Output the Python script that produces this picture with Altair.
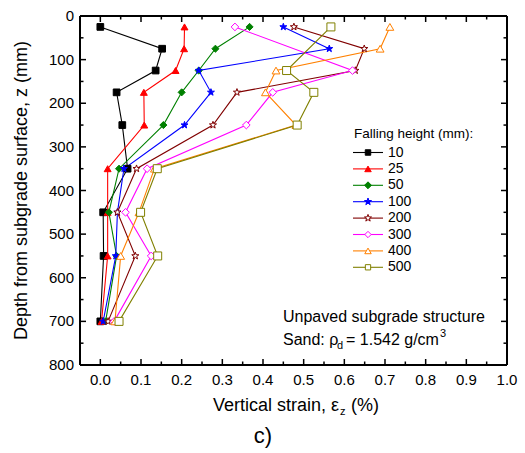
import altair as alt
import pandas as pd

# Falling heights (mm) of the drop-weight tests
heights = ["10", "25", "50", "100", "200", "300", "400", "500"]

# Depths (mm) of the strain gauges
depth_full = [25, 75, 125, 175, 250, 350, 450, 550, 700]
depth_no75 = [25, 125, 175, 250, 350, 450, 550, 700]

# Vertical strain (%) per falling height, listed top to bottom
strain_10 = [0.000, 0.152, 0.136, 0.040, 0.054, 0.067, 0.007, 0.008, 0.000]
strain_25 = [0.207, 0.206, 0.185, 0.107, 0.108, 0.018, 0.018, 0.018, 0.003]
strain_50 = [0.367, 0.283, 0.242, 0.200, 0.155, 0.046, 0.021, 0.040, 0.013]
strain_100 = [0.450, 0.563, 0.242, 0.272, 0.207, 0.058, 0.042, 0.038, 0.007]
strain_200 = [0.476, 0.649, 0.627, 0.336, 0.277, 0.089, 0.042, 0.086, 0.019]
strain_300 = [0.331, 0.620, 0.424, 0.359, 0.115, 0.062, 0.125, 0.034]
strain_400 = [0.712, 0.688, 0.432, 0.406, 0.481, 0.133, 0.095, 0.050, 0.036]
strain_500 = [0.567, 0.458, 0.525, 0.484, 0.140, 0.099, 0.141, 0.046]

series = [
    ("10", depth_full, strain_10),
    ("25", depth_full, strain_25),
    ("50", depth_full, strain_50),
    ("100", depth_full, strain_100),
    ("200", depth_full, strain_200),
    ("300", depth_no75, strain_300),
    ("400", depth_full, strain_400),
    ("500", depth_no75, strain_500),
]

# Axis tick values and their labels
x_major = [0.0, 0.1, 0.2, 0.3, 0.4, 0.5, 0.6, 0.7, 0.8, 0.9, 1.0]
x_labels = ["0.0", "0.1", "0.2", "0.3", "0.4", "0.5", "0.6", "0.7", "0.8", "0.9", "1.0"]
x_minor = [0.05, 0.15, 0.25, 0.35, 0.45, 0.55, 0.65, 0.75, 0.85, 0.95]
y_major = [0, 100, 200, 300, 400, 500, 600, 700, 800]
y_labels = ["0", "100", "200", "300", "400", "500", "600", "700", "800"]
y_minor = [50, 150, 250, 350, 450, 550, 650, 750]

rows = []
for h, depths, strains in series:
    for d, s in zip(depths, strains):
        rows.append({"height": h, "depth": d, "strain": s})
df = pd.DataFrame(rows)

# Styling
STAR = ("M0,-1L0.235,-0.324L0.951,-0.309L0.380,0.124L0.588,0.809L0,0.4"
        "L-0.588,0.809L-0.380,0.124L-0.951,-0.309L-0.235,-0.324Z")
colors = ["#000000", "#ff0000", "#008000", "#0000ff", "#800000", "#ff00ff", "#ff8000", "#808000"]
fills = ["#000000", "#ff0000", "#008000", "#0000ff", "#ffffff", "#ffffff", "#ffffff", "#ffffff"]
shapes = ["square", "triangle-up", "diamond", STAR, STAR, "diamond", "triangle-up", "square"]
sizes = [45, 64, 72, 90, 90, 60, 60, 42]
legend_sizes = [30, 42, 48, 55, 55, 40, 42, 28]

FONT = "Liberation Sans"
W, H = 427, 349

xs = alt.Scale(domain=[-0.05, 1.0], nice=False, zero=False)
ys = alt.Scale(domain=[0, 800], nice=False, reverse=True)
color_scale = alt.Scale(domain=heights, range=colors)
fill_scale = alt.Scale(domain=heights, range=fills)
shape_scale = alt.Scale(domain=heights, range=shapes)

base = alt.Chart(df)

lines = base.mark_line(strokeWidth=1.1).encode(
    x=alt.X("strain:Q", scale=xs, axis=None),
    y=alt.Y("depth:Q", scale=ys, axis=None),
    color=alt.Color("height:N", scale=color_scale, legend=None),
    order=alt.Order("depth:Q"),
)

points = base.mark_point(filled=False, opacity=1, strokeWidth=1).encode(
    x=alt.X("strain:Q", scale=xs, axis=None),
    y=alt.Y("depth:Q", scale=ys, axis=None),
    shape=alt.Shape("height:N", scale=shape_scale, legend=None),
    stroke=alt.Stroke("height:N", scale=color_scale, legend=None),
    fill=alt.Fill("height:N", scale=fill_scale, legend=None),
    size=alt.Size("height:O", scale=alt.Scale(domain=heights, range=sizes), legend=None),
)


def x_ticks(vals, length, top):
    y0 = 0 if top else H
    y1 = length if top else H - length
    return alt.Chart(pd.DataFrame({"v": vals})).mark_rule(
        color="black", strokeWidth=1.5
    ).encode(x=alt.X("v:Q", scale=xs, axis=None), y=alt.value(y0), y2=alt.value(y1))


def y_ticks(vals, length, right):
    x0 = W if right else 0
    x1 = W - length if right else length
    return alt.Chart(pd.DataFrame({"v": vals})).mark_rule(
        color="black", strokeWidth=1.5
    ).encode(y=alt.Y("v:Q", scale=ys, axis=None), x=alt.value(x0), x2=alt.value(x1))


ticks = [
    x_ticks(x_major, 6, False), x_ticks(x_minor, 3.5, False),
    x_ticks(x_major, 6, True), x_ticks(x_minor, 3.5, True),
    y_ticks(y_major, 6, False), y_ticks(y_minor, 3.5, False),
    y_ticks(y_major, 6, True), y_ticks(y_minor, 3.5, True),
]

# Tick labels placed through the same scales as the data
x_tick_labels = alt.Chart(pd.DataFrame({"v": x_major, "t": x_labels})).mark_text(
    font=FONT, fontSize=15, color="black", align="center", baseline="top"
).encode(x=alt.X("v:Q", scale=xs, axis=None), y=alt.value(H + 8), text="t:N")

y_tick_labels = alt.Chart(pd.DataFrame({"v": y_major, "t": y_labels})).mark_text(
    font=FONT, fontSize=15, color="black", align="right", baseline="middle"
).encode(y=alt.Y("v:Q", scale=ys, axis=None), x=alt.value(-6), text="t:N")


def frame_edge(x0, x1, y0, y1):
    return alt.Chart(pd.DataFrame({"e": [0]})).mark_rule(
        color="black", strokeWidth=2
    ).encode(x=alt.value(x0), x2=alt.value(x1), y=alt.value(y0), y2=alt.value(y1))


frame = [
    frame_edge(0, W, 0, 0), frame_edge(0, W, H, H),
    frame_edge(0, 0, 0, H), frame_edge(W, W, 0, H),
]


def label(text, x, y, size, **kw):
    return alt.Chart(pd.DataFrame({"t": [text]})).mark_text(
        font=FONT, fontSize=size, color="black", **kw
    ).encode(text="t:N", x=alt.value(x), y=alt.value(y))


texts = [
    label("Depth from subgrade surface, z (mm)", -58, H / 2, 18,
          angle=270, align="center", baseline="middle"),
    label("Vertical strain, \u03b5", 133, 395, 18, align="left", baseline="alphabetic"),
    label("z", 260, 399, 11, align="left", baseline="alphabetic"),
    label("(%)", 271, 395, 18, align="left", baseline="alphabetic"),
    label("Unpaved subgrade structure", 203, 306, 16, align="left", baseline="alphabetic"),
    label("Sand: \u03c1", 203, 329, 16, align="left", baseline="alphabetic"),
    label("d", 257, 333, 11, align="left", baseline="alphabetic"),
    label("= 1.542 g/cm", 266, 329, 16, align="left", baseline="alphabetic"),
    label("3", 360, 321, 11, align="left", baseline="alphabetic"),
    label("c)", 183, 427, 22, align="center", baseline="alphabetic"),
    label("Falling height (mm):", 274, 122, 13.5, align="left", baseline="alphabetic"),
]

# Legend: one row per falling height, stacked below the title
LEG_TOP, LEG_STEP = 136.5, 16.4
legend = []
for i, h in enumerate(heights):
    row_y = LEG_TOP + i * LEG_STEP
    row = alt.Chart(pd.DataFrame({"height": [h]}))
    legend.append(row.mark_rule(strokeWidth=1.1, color=colors[i]).encode(
        x=alt.value(273), x2=alt.value(303), y=alt.value(row_y)))
    legend.append(row.mark_point(
        shape=shapes[i], size=legend_sizes[i], stroke=colors[i], fill=fills[i],
        filled=False, opacity=1, strokeWidth=1,
    ).encode(x=alt.value(288), y=alt.value(row_y)))
    legend.append(row.mark_text(font=FONT, fontSize=14, color="black", align="left",
                                baseline="middle").encode(
        x=alt.value(308), y=alt.value(row_y), text="height:N"))

chart = alt.layer(
    lines, points, *ticks, x_tick_labels, y_tick_labels, *frame, *texts, *legend
).properties(
    width=W, height=H,
    padding={"left": 80, "top": 16, "right": 18, "bottom": 88},
    autosize=alt.AutoSizeParams(type="none"),
).configure(background="white", view=alt.ViewConfig(strokeWidth=0))

chart.save("out.html", embed_options={"renderer": "svg", "actions": False})
